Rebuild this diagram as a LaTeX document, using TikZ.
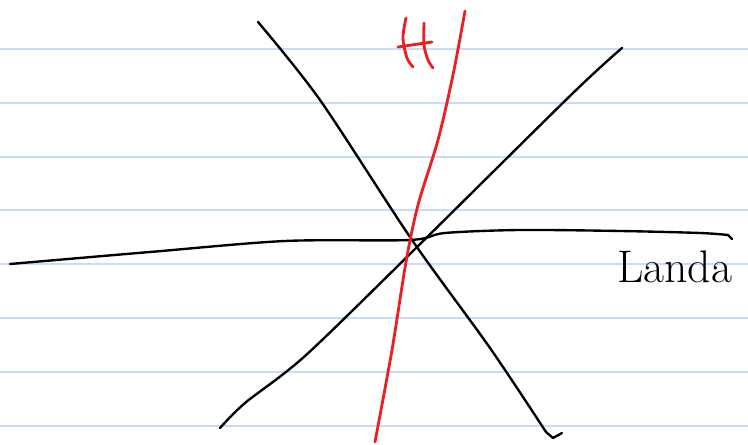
\documentclass[tikz,border=0pt]{standalone}
\usepackage{tikz}
\definecolor{ruleblue}{RGB}{200,220,250}
\definecolor{penred}{RGB}{235,30,35}
\begin{document}
\begin{tikzpicture}[x=0.02cm, y=-0.02cm,
    ruleline/.style={ruleblue, line width=1.2pt},
    blackpen/.style={black, line width=1.35pt, line cap=round, line join=round},
    redpen/.style={penred, line width=1.6pt, line cap=round, line join=round}]
    \useasboundingbox[fill=white] (0,0) rectangle (748,445);

    % ruled paper
    \foreach \y in {49,103,157,210,264,318,372,426}
        \draw[ruleline] (0,\y) -- (748,\y);

    % falling stroke with hook
    \draw[blackpen] plot[smooth, tension=0.5] coordinates {(258,22) (320,100) (412,240) (490,348) (546,432)}
        -- (553,438) -- (562,433);

    % rising stroke
    \draw[blackpen] plot[smooth, tension=0.5] coordinates {(220,428) (245,403) (305,356) (412,252) (572,94) (622,48)};

    % near-horizontal stroke
    \draw[blackpen] plot[smooth, tension=0.5] coordinates {(10,264) (150,252) (285,241) (410,240) (445,233) (520,230) (620,231) (700,233) (728,235)}
        -- (732,239);

    % red curve
    \draw[redpen] plot[smooth, tension=0.5] coordinates {(375,442) (392,350) (406,262) (418,205) (438,140) (453,75) (465,11)};

    % red H
    \draw[redpen] plot[smooth] coordinates {(406,18) (403,38) (407,58) (413,67)};
    \draw[redpen] plot[smooth] coordinates {(424,23) (424,45) (428,60) (433,68)};
    \draw[redpen] (398,47) -- (432,42);

    % label
    \node[anchor=base west, inner sep=0pt, font=\fontsize{26}{26}\selectfont] (landlabel) at (617,283) {Landa};
\end{tikzpicture}
\end{document}
